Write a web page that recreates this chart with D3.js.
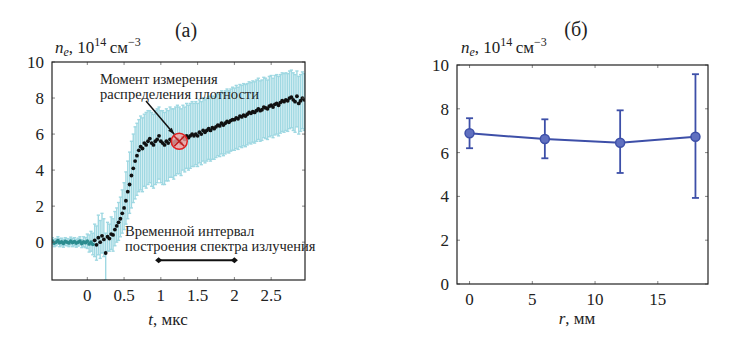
<!DOCTYPE html>
<html><head><meta charset="utf-8">
<script src="https://cdn.jsdelivr.net/npm/d3@7"></script>
</head>
<body style="margin:0"><svg id="c" width="732" height="340"></svg>
<script>
// ---------- Panel (а): time series ----------
const tStart = -0.475, tStep = 0.025;
const neMean = [
 0.05,-0.05,0.0,0.08,-0.03,0.02,-0.06,0.04,0.0,-0.04,0.06,-0.02,0.03,-0.05,0.0,0.05,-0.08,0.02,-0.03,0.06,-0.1,0.0,-0.12,
 0.1,-0.15,0.25,0.0,0.35,0.15,-0.6,0.3,0.2,0.45,0.4,0.7,0.9,1.1,1.3,1.6,1.9,2.3,2.8,3.2,3.7,4.1,4.5,4.8,5.1,5.3,
 5.2,5.5,5.4,5.6,5.75,5.5,5.4,5.6,5.7,5.9,5.6,5.5,5.4,5.6,5.5,5.7,5.6,5.5,5.6,5.7,5.6,5.5,5.8,5.7,5.9,5.8,
 5.9,6.0,5.9,6.0,5.9,6.1,6.0,6.2,6.1,6.2,6.3,6.2,6.35,6.3,6.4,6.5,6.45,6.6,6.5,6.6,6.7,6.65,6.75,6.8,
 6.8,6.9,6.85,7.0,6.95,7.05,7.0,7.1,7.2,7.15,7.25,7.2,7.3,7.4,7.3,7.35,7.5,7.45,7.4,7.55,
 7.6,7.5,7.65,7.7,7.6,7.75,7.85,7.8,7.9,7.85,8.0,8.05,7.9,7.8,8.1,7.7,7.85,8.0,7.9
];
const neUpper = [
 0.25,0.15,0.2,0.3,0.2,0.22,0.15,0.25,0.2,0.18,0.28,0.2,0.25,0.15,0.22,0.3,0.15,0.3,0.25,0.45,0.4,0.6,0.5,
 1.0,0.9,1.5,1.2,1.6,1.3,0.5,1.1,1.0,1.4,1.3,1.7,1.9,2.2,2.5,2.9,3.3,3.9,4.5,5.0,5.6,6.0,6.4,6.6,6.8,7.0,
 6.9,7.1,7.2,7.3,7.3,7.2,7.1,7.3,7.4,7.5,7.3,7.3,7.2,7.4,7.3,7.5,7.4,7.4,7.5,7.6,7.5,7.4,7.6,7.5,7.7,7.6,
 7.7,7.8,7.7,7.8,7.7,7.9,7.8,8.0,7.9,8.0,8.1,8.0,8.1,8.1,8.2,8.3,8.2,8.4,8.3,8.4,8.5,8.4,8.5,8.6,
 8.55,8.7,8.6,8.75,8.7,8.8,8.75,8.8,8.9,8.85,8.95,8.9,9.0,9.1,8.95,9.0,9.15,9.1,9.0,9.2,
 9.25,9.1,9.25,9.3,9.2,9.3,9.4,9.35,9.4,9.35,9.5,9.55,9.4,9.3,9.5,9.2,9.3,9.45,9.35
];
const neLower = [
 -0.15,-0.25,-0.2,-0.12,-0.25,-0.2,-0.28,-0.18,-0.2,-0.25,-0.15,-0.25,-0.2,-0.28,-0.22,-0.15,-0.3,-0.25,-0.3,-0.35,-0.55,-0.5,-0.7,
 -0.8,-1.0,-0.7,-0.9,-0.6,-0.8,-2.1,-0.5,-0.5,-0.4,-0.5,-0.2,0.0,0.1,0.3,0.5,0.7,1.0,1.3,1.6,1.9,2.2,2.4,2.6,2.8,2.9,
 2.8,3.1,3.0,3.2,3.3,3.1,3.0,3.2,3.3,3.5,3.3,3.2,3.2,3.4,3.4,3.6,3.6,3.5,3.7,3.8,3.8,3.7,4.0,3.9,4.1,4.0,
 4.1,4.2,4.2,4.3,4.2,4.4,4.3,4.5,4.4,4.5,4.6,4.5,4.6,4.6,4.7,4.8,4.75,4.9,4.8,4.9,5.0,4.95,5.05,5.1,
 5.1,5.2,5.15,5.3,5.25,5.35,5.3,5.4,5.5,5.45,5.55,5.5,5.6,5.7,5.6,5.65,5.8,5.75,5.7,5.85,
 5.9,5.8,5.95,6.0,5.9,6.05,6.15,6.1,6.2,6.15,6.3,6.35,6.2,6.1,6.4,6.0,6.15,6.3,6.2
];
const xTicksA = [0, 0.5, 1, 1.5, 2, 2.5];
const xTickLabelsA = ["0", "0.5", "1", "1.5", "2", "2.5"];
const yTicksA = [0, 2, 4, 6, 8, 10];
const markerA = {t: 1.25, v: 5.6};
const intervalA = [0.97, 2.0];
const intervalLevelA = -1.0;

// ---------- Panel (б): radial profile ----------
const rValues = [0, 6, 12, 18];
const neRadial = [6.88, 6.62, 6.45, 6.72];
const neRadialUpper = [7.57, 7.52, 7.93, 9.58];
const neRadialLower = [6.2, 5.74, 5.07, 3.93];
const xTicksB = [0, 5, 10, 15];
const yTicksB = [0, 2, 4, 6, 8, 10];

const fams = ["Liberation Serif"];
const TXT = "#222";
const svg = d3.select("#c");

function txt(g, x, y, size, s) {
  return g.append("text").attr("x", x).attr("y", y).attr("font-family", fams[0])
    .attr("font-size", size).attr("fill", TXT).text(s);
}

function frame(g, x, y, xt, yt, xtl, xlabY) {
  const [x0, x1] = x.range(), [y0, y1] = y.range();
  const tk = g.append("g").attr("stroke", "#666").attr("stroke-width", 0.8);
  xt.forEach(v => {
    tk.append("line").attr("x1", x(v)).attr("x2", x(v)).attr("y1", y0).attr("y2", y0 - 3);
    tk.append("line").attr("x1", x(v)).attr("x2", x(v)).attr("y1", y1).attr("y2", y1 + 3);
  });
  yt.forEach(v => {
    tk.append("line").attr("y1", y(v)).attr("y2", y(v)).attr("x1", x0).attr("x2", x0 + 3);
    tk.append("line").attr("y1", y(v)).attr("y2", y(v)).attr("x1", x1).attr("x2", x1 - 3);
  });
  g.append("rect").attr("x", x0).attr("y", y1).attr("width", x1 - x0).attr("height", y0 - y1)
    .attr("fill", "none").attr("stroke", "#222").attr("stroke-width", 1.2);
  xt.forEach((d, i) => txt(svg, x(d), xlabY, 17, xtl ? xtl[i] : String(d)).attr("text-anchor", "middle"));
  yt.forEach(d => txt(svg, x0 - 8, y(d) + 6, 17, String(d)).attr("text-anchor", "end"));
}

function ylabel(xPos, yPos) {
  const t = txt(svg, xPos, yPos, 17, null);
  t.append("tspan").attr("font-style", "italic").text("n");
  t.append("tspan").attr("font-style", "italic").attr("font-size", 12).attr("dy", 3).text("e");
  t.append("tspan").attr("dy", -3).text(", 10");
  t.append("tspan").attr("font-size", 12).attr("dy", -7).text("14");
  t.append("tspan").attr("dy", 7).text("\u2009см");
  t.append("tspan").attr("font-size", 12).attr("dy", -7).text("\u22123");
}

// ===== Panel (а) =====
{
  const x = d3.scaleLinear().domain([-0.48, 2.96]).range([52, 305]);
  const y = d3.scaleLinear().domain([-2.1, 10]).range([280, 62]);
  const g = svg.append("g");
  const data = neMean.map((v, i) => ({t: tStart + i * tStep, v, hi: neUpper[i], lo: neLower[i]}));
  svg.append("clipPath").attr("id", "clipA").append("rect").attr("x", 52).attr("y", 62).attr("width", 253).attr("height", 218);
  const pg = g.append("g").attr("clip-path", "url(#clipA)");
  const eb = pg.append("g").attr("stroke", "#9fd8e2").attr("stroke-width", 1.4);
  data.forEach(d => {
    eb.append("line").attr("x1", x(d.t)).attr("x2", x(d.t)).attr("y1", y(d.lo)).attr("y2", y(d.hi));
    eb.append("line").attr("x1", x(d.t) - 1.6).attr("x2", x(d.t) + 1.6).attr("y1", y(d.lo)).attr("y2", y(d.lo));
    eb.append("line").attr("x1", x(d.t) - 1.6).attr("x2", x(d.t) + 1.6).attr("y1", y(d.hi)).attr("y2", y(d.hi));
  });
  pg.append("g").selectAll("circle").data(data).join("circle")
    .attr("cx", d => x(d.t)).attr("cy", d => y(d.v)).attr("r", 1.9)
    .attr("fill", d => d.t < 0.1 ? "#2b8c8f" : "#111");
  frame(g, x, y, xTicksA, yTicksA, xTickLabelsA, 301);

  const mx = x(markerA.t), my = y(markerA.v);
  g.append("circle").attr("cx", mx).attr("cy", my).attr("r", 8).attr("fill", "#f2a0a0").attr("fill-opacity", 0.8)
    .attr("stroke", "#e02020").attr("stroke-width", 1.5);
  g.append("path").attr("d", `M${mx-5},${my-5}L${mx+5},${my+5}M${mx+5},${my-5}L${mx-5},${my+5}`)
    .attr("stroke", "#c01818").attr("stroke-width", 1.5);
  const sx = 146, sy = 101, ax = mx - 5, ay = my - 7;
  g.append("line").attr("x1", sx).attr("y1", sy).attr("x2", ax).attr("y2", ay)
    .attr("stroke", "#111").attr("stroke-width", 1.5);
  const ang = Math.atan2(ay - sy, ax - sx);
  g.append("path").attr("d", `M${ax},${ay}L${ax - 7*Math.cos(ang - 0.35)},${ay - 7*Math.sin(ang - 0.35)}L${ax - 7*Math.cos(ang + 0.35)},${ay - 7*Math.sin(ang + 0.35)}Z`).attr("fill", "#111");
  txt(svg, 100, 84, 14.5, "Момент измерения");
  txt(svg, 100, 99, 14.5, "распределения плотности");

  txt(svg, 125, 236, 14.5, "Временной интервал");
  txt(svg, 125, 251, 14.5, "построения спектра излучения");
  const iy = y(intervalLevelA);
  g.append("line").attr("x1", x(intervalA[0])).attr("x2", x(intervalA[1])).attr("y1", iy).attr("y2", iy)
    .attr("stroke", "#111").attr("stroke-width", 2);
  intervalA.forEach(v => {
    const cx = x(v);
    g.append("path").attr("d", `M${cx-3.5},${iy}L${cx},${iy-3}L${cx+3.5},${iy}L${cx},${iy+3}Z`).attr("fill", "#111");
  });

  txt(svg, 186, 37, 20, "(а)").attr("text-anchor", "middle");
  ylabel(55, 53);
  const xl = txt(svg, 168, 325, 17, null).attr("text-anchor", "middle");
  xl.append("tspan").attr("font-style", "italic").text("t");
  xl.append("tspan").text(", мкс");
}

// ===== Panel (б) =====
{
  const x = d3.scaleLinear().domain([-1, 19]).range([457, 708]);
  const y = d3.scaleLinear().domain([0, 10]).range([284, 65]);
  const g = svg.append("g");
  frame(g, x, y, xTicksB, yTicksB, null, 305);
  const col = "#3d4fa8";
  const data = rValues.map((r, i) => ({r, v: neRadial[i], hi: neRadialUpper[i], lo: neRadialLower[i]}));
  const eb = g.append("g").attr("stroke", col).attr("stroke-width", 1.8);
  data.forEach(d => {
    eb.append("line").attr("x1", x(d.r)).attr("x2", x(d.r)).attr("y1", y(d.lo)).attr("y2", y(d.hi));
    eb.append("line").attr("x1", x(d.r) - 3.5).attr("x2", x(d.r) + 3.5).attr("y1", y(d.lo)).attr("y2", y(d.lo));
    eb.append("line").attr("x1", x(d.r) - 3.5).attr("x2", x(d.r) + 3.5).attr("y1", y(d.hi)).attr("y2", y(d.hi));
  });
  g.append("path").datum(data).attr("fill", "none").attr("stroke", col).attr("stroke-width", 2)
    .attr("d", d3.line().x(d => x(d.r)).y(d => y(d.v)));
  g.append("g").selectAll("circle").data(data).join("circle")
    .attr("cx", d => x(d.r)).attr("cy", d => y(d.v)).attr("r", 4.5)
    .attr("fill", "#6070c0").attr("stroke", col).attr("stroke-width", 1.5);

  txt(svg, 576, 36, 20, "(б)").attr("text-anchor", "middle");
  ylabel(461, 53);
  const xl = txt(svg, 577, 324, 17, null).attr("text-anchor", "middle");
  xl.append("tspan").attr("font-style", "italic").text("r");
  xl.append("tspan").text(", мм");
}
</script></body></html>
